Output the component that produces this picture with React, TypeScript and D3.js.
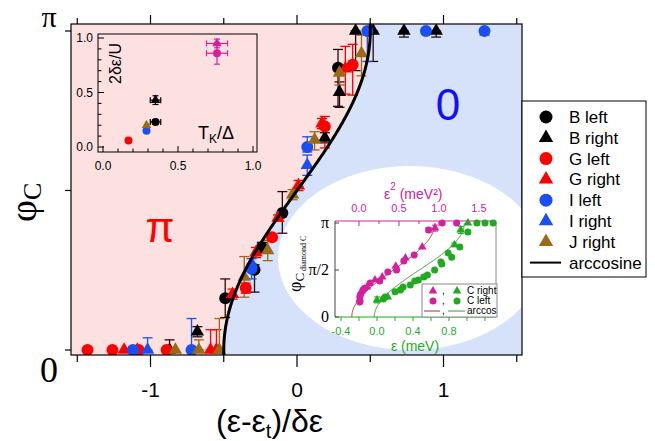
import React from 'react';
import * as d3 from 'd3';

const PI = Math.PI;

// ---------- main plot data: [x, phi, errDown, errUp] ----------
const bLeft = [[-0.49, 0.51, 0.19, 0.19], [-0.29, 0.79, 0.22, 0.05], [-0.24, 1.01, 0.05, 0.05], [-0.10, 1.35, 0.2, 0.21], [0.28, 2.78, 0.38, 0.18]];
const bRight = [[-0.87, 0, 0, 0.1], [-0.68, 0.18, 0.05, 0.05], [0.19, 2.09, 0.05, 0.05], [0.29, 2.54, 0.15, 0.1], [0.40, PI, 0.39, 0], [0.52, PI, 0.3, 0], [0.73, PI, 0.06, 0], [0.95, PI, 0.06, 0]];
const gLeft = [[-1.43, 0, 0, 0], [-1.26, 0, 0, 0], [-1.08, 0, 0, 0], [-0.89, 0, 0, 0], [-0.35, 0.61, 0.05, 0.05], [-0.17, 1.11, 0.03, 0.03], [0.19, 2.20, 0.21, 0.1], [0.38, 2.81, 0.3, 0.2]];
const gRight = [[-1.18, 0, 0, 0], [-1.09, 0, 0, 0], [-0.59, 0, 0, 0.2], [-0.55, 0, 0, 0.2], [-0.44, 0.55, 0.05, 0.05], [-0.28, 0.96, 0.05, 0.05], [-0.13, 1.30, 0.03, 0.03], [0.01, 1.62, 0.05, 0.05], [0.17, 2.23, 0.05, 0.05], [0.33, 2.77, 0.25, 0.22]];
const iLeft = [[-1.12, 0, 0, 0.03], [-0.72, 0, 0, 0.31], [-0.31, 0.80, 0.1, 0.05], [0.07, 2.0, 0.05, 0.1], [0.48, PI, 0.3, 0], [0.88, PI, 0.03, 0], [1.28, PI, 0.04, 0]];
const iRight = [[-1.02, 0, 0, 0.12], [-0.31, 0.85, 0.05, 0.05], [0.07, 1.82, 0.1, 0.1]];
const jRight = [[-0.83, 0, 0, 0], [-0.67, 0, 0, 0.1], [-0.53, 0, 0, 0.31], [-0.36, 0.72, 0.2, 0.2], [-0.20, 0.98, 0.1, 0.1], [-0.03, 1.53, 0.05, 0.05], [0.12, 2.07, 0.1, 0.08], [0.29, 2.73, 0.12, 0.08], [0.44, 2.92, 0.22, 0.18]];

const legendLabels = ['B left', 'B right', 'G left', 'G right', 'I left', 'I right', 'J right', 'arccosine'];
const xTicksMajor = [-1, 0, 1];
const xTicksMinor = [-1.5, -0.5, 0.5, 1.5];

// ---------- inset 1 (2δε/U vs TK/Δ): [x, y, xErr, yErr] ----------
const in1Red = [[0.17, 0.06, 0, 0]];
const in1Blue = [[0.29, 0.15, 0, 0]];
const in1Brown = [[0.29, 0.20, 0, 0]];
const in1BlackCirc = [[0.35, 0.23, 0.035, 0.02]];
const in1BlackTri = [[0.35, 0.43, 0.035, 0.04]];
const in1MagCirc = [[0.76, 0.86, 0.07, 0.1]];
const in1MagTri = [[0.76, 0.95, 0.07, 0.04]];

// ---------- inset 2 (phi vs eps / eps^2): [x, phi, err] ----------
const magTri = [[0.95, 2.97, 0.1], [0.79, 2.34, 0], [0.58, 1.97, 0], [0.46, 1.70, 0], [0.29, 1.34, 0], [0.20, 1.24, 0], [0.10, 1.0, 0], [0.03, 0.85, 0], [0.01, 0.60, 0]];
const magCirc = [[1.04, PI, 0], [1.22, PI, 0], [0.87, 2.91, 0.08], [0.69, 2.07, 0], [0.56, 1.87, 0], [0.47, 1.57, 0], [0.36, 1.50, 0], [0.26, 1.20, 0], [0.14, 1.14, 0], [0.07, 0.96, 0], [0.05, 0.90, 0], [0.02, 0.75, 0], [0.01, 0.67, 0], [0.01, 0.50, 0]];
const grnTri = [[1.01, PI, 0], [0.93, 2.91, 0.12], [0.86, 2.41, 0.06], [0.12, 0.67, 0], [0.0, 0.57, 0.1]];
const grnCirc = [[1.11, PI, 0], [1.20, PI, 0], [1.29, PI, 0], [1.01, 2.84, 0.06], [0.92, 2.34, 0], [0.79, 2.14, 0], [0.83, 2.0, 0], [0.71, 1.84, 0], [0.72, 1.77, 0], [0.64, 1.57, 0], [0.56, 1.40, 0], [0.52, 1.34, 0], [0.46, 1.24, 0], [0.42, 1.20, 0], [0.37, 1.07, 0], [0.29, 1.0, 0], [0.26, 0.90, 0], [0.20, 0.84, 0], [0.09, 0.67, 0], [0.07, 0.60, 0]];
const magArc = [-0.09, 0.95];
const grnArc = [-0.03, 0.97];
const epsTicks = [-0.4, 0.0, 0.4, 0.8];
const eps2Ticks = [0.0, 0.5, 1.0, 1.5];
const in2Legend = ['C right', 'C left', 'arccos'];

const SANS = 'Liberation Sans, Arial, sans-serif';
const SERIF = 'Liberation Serif, Times New Roman, serif';
const BLACK = '#000000', RED = '#ff0000', BLUE = '#1a4ff5', BROWN = '#9c6a14';
const MAG = '#d4209c', GRN = '#1faa1f';
const PINK = '#fde0e0', LBLUE = '#d6e2fa';

const triPath = (area: number) => d3.symbol().type(d3.symbolTriangle).size(area)() as string;

function Marker({ cx, cy, shape, color, r = 6, triArea = 80 }: any) {
  if (shape === 'c') return <circle cx={cx} cy={cy} r={r} fill={color} />;
  return <path d={triPath(triArea)} transform={`translate(${cx},${cy})`} fill={color} />;
}

function VErr({ x, y0, y1, color, cap = 5, sw = 1.3 }: any) {
  return (
    <g stroke={color} strokeWidth={sw} fill="none">
      <line x1={x} x2={x} y1={y0} y2={y1} />
      <line x1={x - cap} x2={x + cap} y1={y0} y2={y0} />
      <line x1={x - cap} x2={x + cap} y1={y1} y2={y1} />
    </g>
  );
}

export default function App() {
  const L = 71, R = 522, T = 24, B = 355;
  const x = d3.scaleLinear().domain([-1.5427, 1.5358]).range([L, R]);
  const y = d3.scaleLinear().domain([0, PI]).range([350, 31]);

  const phis = d3.range(0, 200 + 1).map((i) => (i / 200) * PI);
  const curvePts: [number, number][] = phis.map((p) => [x(-Math.cos(p) / 2), y(p)]);
  const fullCurve: [number, number][] = [[x(-0.5), B], ...curvePts, [x(0.5), T]];
  const pinkPoly: [number, number][] = [[L, T], [x(0.5), T], ...curvePts.slice().reverse(), [x(-0.5), B], [L, B]];
  const line = d3.line();

  const series = [
    { data: bLeft, shape: 'c', color: BLACK, ecol: '#2a0a0a' },
    { data: bRight, shape: 't', color: BLACK, ecol: '#2a0a0a' },
    { data: gLeft, shape: 'c', color: RED, ecol: RED },
    { data: gRight, shape: 't', color: RED, ecol: RED },
    { data: iLeft, shape: 'c', color: BLUE, ecol: BLUE },
    { data: iRight, shape: 't', color: BLUE, ecol: BLUE },
    { data: jRight, shape: 't', color: BROWN, ecol: BROWN },
  ];

  // inset 1
  const ix = d3.scaleLinear().domain([0, 1]).range([103, 253]);
  const iy = d3.scaleLinear().domain([0, 1]).range([147, 38]);
  const in1 = [
    { data: in1Red, shape: 'c', color: RED },
    { data: in1Blue, shape: 'c', color: BLUE },
    { data: in1Brown, shape: 't', color: BROWN },
    { data: in1BlackCirc, shape: 'c', color: BLACK },
    { data: in1BlackTri, shape: 't', color: BLACK },
    { data: in1MagCirc, shape: 'c', color: MAG },
    { data: in1MagTri, shape: 't', color: MAG },
  ];
  const in1Ticks = d3.range(0, 11).map((i) => i / 10);

  // inset 2
  const ex = d3.scaleLinear().domain([0, 0.4]).range([377, 413]);
  const e2x = d3.scaleLinear().domain([0, 0.5]).range([359, 399]);
  const py = d3.scaleLinear().domain([0, PI]).range([317, 223]);
  const IL = 335, IR = 496, IT = 221, IB = 317;
  const arcPts = (sc: any, ab: number[]) =>
    phis.map((p) => [sc(ab[0] + ((1 - Math.cos(p)) / 2) * (ab[1] - ab[0])), py(p)] as [number, number]);
  const in2 = [
    { data: magTri, shape: 't', color: MAG, sc: e2x },
    { data: magCirc, shape: 'c', color: MAG, sc: e2x },
    { data: grnTri, shape: 't', color: GRN, sc: ex },
    { data: grnCirc, shape: 'c', color: GRN, sc: ex },
  ];
  const epsMinor = d3.range(-4, 14, 2).map((i) => i / 10);
  const eps2Minor = d3.range(0, 7).map((i) => i * 0.25);

  const legY = (i: number) => 117 + i * 20.8;
  const legendMarks = [
    { shape: 'c', color: BLACK }, { shape: 't', color: BLACK }, { shape: 'c', color: RED }, { shape: 't', color: RED },
    { shape: 'c', color: BLUE }, { shape: 't', color: BLUE }, { shape: 't', color: BROWN },
  ];

  return (
    <svg width={655} height={441} style={{ position: 'absolute', left: 0, top: 0, background: '#fff' }}>
      <defs>
        <clipPath id="mainClip"><rect x={L} y={T} width={R - L} height={B - T} /></clipPath>
      </defs>
      {/* backgrounds */}
      <g clipPath="url(#mainClip)">
        <rect x={L} y={T} width={R - L} height={B - T} fill={LBLUE} />
        <path d={line(pinkPoly) + 'Z'} fill={PINK} />
        <ellipse cx={410} cy={258} rx={132} ry={92} fill="#ffffff" />
      </g>

      {/* phase labels */}
      <text x={160} y={242} fill={RED} fontFamily={SANS} fontSize={42} textAnchor="middle">π</text>
      <text x={448} y={120} fill="#1010ff" fontFamily={SANS} fontSize={44} textAnchor="middle">0</text>

      {/* main error bars and markers */}
      <g clipPath="url(#mainClip)">
        {series.map((s, si) => (
          <g key={'e' + si}>
            {s.data.map((d, i) =>
              d[2] + d[3] > 0 ? <VErr key={i} x={x(d[0])} y0={y(d[1] + d[3])} y1={y(d[1] - d[2])} color={s.ecol} /> : null
            )}
          </g>
        ))}
        {series.map((s, si) => (
          <g key={'m' + si}>
            {s.data.map((d, i) => (
              <Marker key={i} cx={x(d[0])} cy={y(d[1])} shape={s.shape} color={s.color} r={6} triArea={78} />
            ))}
          </g>
        ))}
        <path d={line(fullCurve) as string} fill="none" stroke="#000" strokeWidth={3} />
      </g>

      {/* main frame and ticks */}
      <rect x={L} y={T} width={R - L} height={B - T} fill="none" stroke="#000" strokeWidth={1.2} />
      {xTicksMajor.map((t) => (
        <g key={'M' + t} stroke="#000" strokeWidth={1.2}>
          <line x1={x(t)} x2={x(t)} y1={B} y2={B + 12} />
          <line x1={x(t)} x2={x(t)} y1={T} y2={T - 9} />
        </g>
      ))}
      {xTicksMinor.map((t) => (
        <g key={'m' + t} stroke="#000" strokeWidth={1.2}>
          <line x1={x(t)} x2={x(t)} y1={B} y2={B + 7} />
          <line x1={x(t)} x2={x(t)} y1={T} y2={T - 6} />
        </g>
      ))}
      {[0, PI / 2, PI].map((p, i) => (
        <line key={'yt' + i} x1={L - 6} x2={L} y1={y(p)} y2={y(p)} stroke="#000" strokeWidth={1.2} />
      ))}
      {xTicksMajor.map((t) => (
        <text key={'xl' + t} x={x(t)} y={397} fontFamily={SANS} fontSize={21} textAnchor="middle">{t === -1 ? '-1' : String(t)}</text>
      ))}
      <text x={49} y={27} fontFamily={SERIF} fontSize={30} textAnchor="middle">π</text>
      <text x={49} y={382} fontFamily={SERIF} fontSize={36} textAnchor="middle">0</text>
      <text transform="translate(36,222) rotate(-90)" fontFamily={SERIF} fontSize={38}>
        φ<tspan fontSize={26} dy={5}>C</tspan>
      </text>
      <text x={216} y={432} fontFamily={SANS} fontSize={32}>
        (ε-ε<tspan fontSize={20} dy={6}>t</tspan><tspan dy={-6}>)/δε</tspan>
      </text>

      {/* inset 1 */}
      <rect x={98} y={34} width={159} height={118} fill={PINK} stroke="#000" strokeWidth={1} />
      {in1Ticks.map((t, i) => {
        const major = i % 5 === 0;
        return (
          <g key={'i1t' + i} stroke="#000" strokeWidth={1}>
            <line x1={98} x2={98 + (major ? 6 : 3.5)} y1={iy(t)} y2={iy(t)} />
            <line x1={ix(t)} x2={ix(t)} y1={152} y2={152 - (major ? 6 : 3.5)} />
          </g>
        );
      })}
      {[0, 0.5, 1].map((t) => (
        <g key={'i1l' + t}>
          <text x={93} y={iy(t) + 4} fontFamily={SANS} fontSize={12} textAnchor="end">{t.toFixed(1)}</text>
          <text x={ix(t)} y={170} fontFamily={SANS} fontSize={12} textAnchor="middle">{t.toFixed(1)}</text>
        </g>
      ))}
      <text transform="translate(121,84) rotate(-90)" fontFamily={SANS} fontSize={16}>2δε/U</text>
      <text x={198} y={139} fontFamily={SANS} fontSize={18}>
        T<tspan fontSize={12} dy={4}>K</tspan><tspan dy={-4}>/Δ</tspan>
      </text>
      {in1.map((s, si) => (
        <g key={'in1' + si}>
          {s.data.map((d, i) => (
            <g key={i} stroke={s.color} strokeWidth={1.2}>
              {d[2] > 0 && (
                <>
                  <line x1={ix(d[0] - d[2])} x2={ix(d[0] + d[2])} y1={iy(d[1])} y2={iy(d[1])} />
                  <line x1={ix(d[0] - d[2])} x2={ix(d[0] - d[2])} y1={iy(d[1]) - 3} y2={iy(d[1]) + 3} />
                  <line x1={ix(d[0] + d[2])} x2={ix(d[0] + d[2])} y1={iy(d[1]) - 3} y2={iy(d[1]) + 3} />
                </>
              )}
              {d[3] > 0 && (
                <>
                  <line x1={ix(d[0])} x2={ix(d[0])} y1={iy(d[1] - d[3])} y2={iy(d[1] + d[3])} />
                  <line x1={ix(d[0]) - 3} x2={ix(d[0]) + 3} y1={iy(d[1] - d[3])} y2={iy(d[1] - d[3])} />
                  <line x1={ix(d[0]) - 3} x2={ix(d[0]) + 3} y1={iy(d[1] + d[3])} y2={iy(d[1] + d[3])} />
                </>
              )}
            </g>
          ))}
          {s.data.map((d, i) => (
            <Marker key={'m' + i} cx={ix(d[0])} cy={iy(d[1])} shape={s.shape} color={s.color} r={4} triArea={40} />
          ))}
        </g>
      ))}

      {/* inset 2 */}
      <g>
        <line x1={IL} x2={IR} y1={IT} y2={IT} stroke={MAG} strokeWidth={1.2} />
        <line x1={IL} x2={IR} y1={IB} y2={IB} stroke={GRN} strokeWidth={1.2} />
        <line x1={IL} x2={IL} y1={IT} y2={IB} stroke="#444" strokeWidth={1} />
        <line x1={IR} x2={IR} y1={IT} y2={IB} stroke="#888" strokeWidth={1} />
        {epsMinor.map((t, i) => (
          <line key={'em' + i} x1={ex(t)} x2={ex(t)} y1={IB} y2={IB + 4} stroke={GRN} strokeWidth={1} />
        ))}
        {eps2Minor.map((t, i) => (
          <line key={'e2m' + i} x1={e2x(t)} x2={e2x(t)} y1={IT} y2={IT + (i % 2 === 0 ? 5 : 3)} stroke={MAG} strokeWidth={1} />
        ))}
        {[0, PI / 2, PI].map((p, i) => (
          <line key={'pt' + i} x1={IL} x2={IL + 4} y1={py(p)} y2={py(p)} stroke="#444" strokeWidth={1} />
        ))}
        {epsTicks.map((t) => (
          <text key={'el' + t} x={ex(t)} y={335} fill={GRN} fontFamily={SANS} fontSize={11} textAnchor="middle">{t.toFixed(1)}</text>
        ))}
        {eps2Ticks.map((t) => (
          <text key={'e2l' + t} x={e2x(t)} y={212} fill={MAG} fontFamily={SANS} fontSize={11} textAnchor="middle">{t.toFixed(1)}</text>
        ))}
        <text x={329} y={228} fontFamily={SERIF} fontSize={16} textAnchor="end">π</text>
        <text x={329} y={275} fontFamily={SERIF} fontSize={16} textAnchor="end">π/2</text>
        <text x={329} y={322} fontFamily={SERIF} fontSize={16} textAnchor="end">0</text>
        <text transform="translate(301,292) rotate(-90)" fontFamily={SERIF} fontSize={18}>
          φ<tspan fontSize={13} dy={3}>C</tspan><tspan fontSize={8} dy={2}> diamond C</tspan>
        </text>
        <text x={415} y={351} fill={GRN} fontFamily={SANS} fontSize={14} textAnchor="middle">ε (meV)</text>
        <text x={384} y={199} fill={MAG} fontFamily={SANS} fontSize={14}>
          ε<tspan fontSize={10} dy={-9}>2</tspan><tspan dy={9}> (meV²)</tspan>
        </text>
        <path d={line(arcPts(e2x, magArc)) as string} fill="none" stroke="#a83232" strokeWidth={1} />
        <path d={line(arcPts(ex, grnArc)) as string} fill="none" stroke="#3a9a3a" strokeWidth={1} />
        {in2.map((s, si) => (
          <g key={'in2' + si}>
            {s.data.map((d, i) =>
              d[2] > 0 ? <VErr key={'e' + i} x={s.sc(d[0])} y0={py(Math.min(PI, d[1] + d[2]))} y1={py(d[1] - d[2])} color={s.color} cap={3} sw={1} /> : null
            )}
            {s.data.map((d, i) => (
              <Marker key={i} cx={s.sc(d[0])} cy={py(d[1])} shape={s.shape} color={s.color} r={3.5} triArea={32} />
            ))}
          </g>
        ))}
        {/* inset 2 legend */}
        <rect x={422} y={284} width={75} height={33} fill="#fff" stroke="#888" strokeWidth={1} />
        <Marker cx={433} cy={291} shape="t" color={MAG} triArea={32} />
        <text x={442} y={294} fontFamily={SANS} fontSize={10}>,</text>
        <Marker cx={457} cy={291} shape="t" color={GRN} triArea={32} />
        <text x={467} y={294} fontFamily={SANS} fontSize={10}>{in2Legend[0]}</text>
        <Marker cx={433} cy={301} shape="c" color={MAG} r={3.5} />
        <text x={442} y={304} fontFamily={SANS} fontSize={10}>,</text>
        <Marker cx={457} cy={301} shape="c" color={GRN} r={3.5} />
        <text x={467} y={304} fontFamily={SANS} fontSize={10}>{in2Legend[1]}</text>
        <line x1={424} x2={440} y1={311} y2={311} stroke="#a83232" strokeWidth={1} />
        <text x={442} y={314} fontFamily={SANS} fontSize={10}>,</text>
        <line x1={448} x2={465} y1={311} y2={311} stroke="#3a9a3a" strokeWidth={1} />
        <text x={467} y={314} fontFamily={SANS} fontSize={10}>{in2Legend[2]}</text>
      </g>

      {/* main legend */}
      <rect x={522} y={101} width={124} height={176} fill="#fff" stroke="#000" strokeWidth={1} />
      {legendMarks.map((m, i) => (
        <Marker key={'lg' + i} cx={546} cy={legY(i)} shape={m.shape} color={m.color} r={6.5} triArea={90} />
      ))}
      <line x1={530} x2={561} y1={legY(7)} y2={legY(7)} stroke="#000" strokeWidth={2} />
      {legendLabels.map((lab, i) => (
        <text key={'lt' + i} x={569} y={legY(i) + 6} fontFamily={SANS} fontSize={17}>{lab}</text>
      ))}
    </svg>
  );
}
